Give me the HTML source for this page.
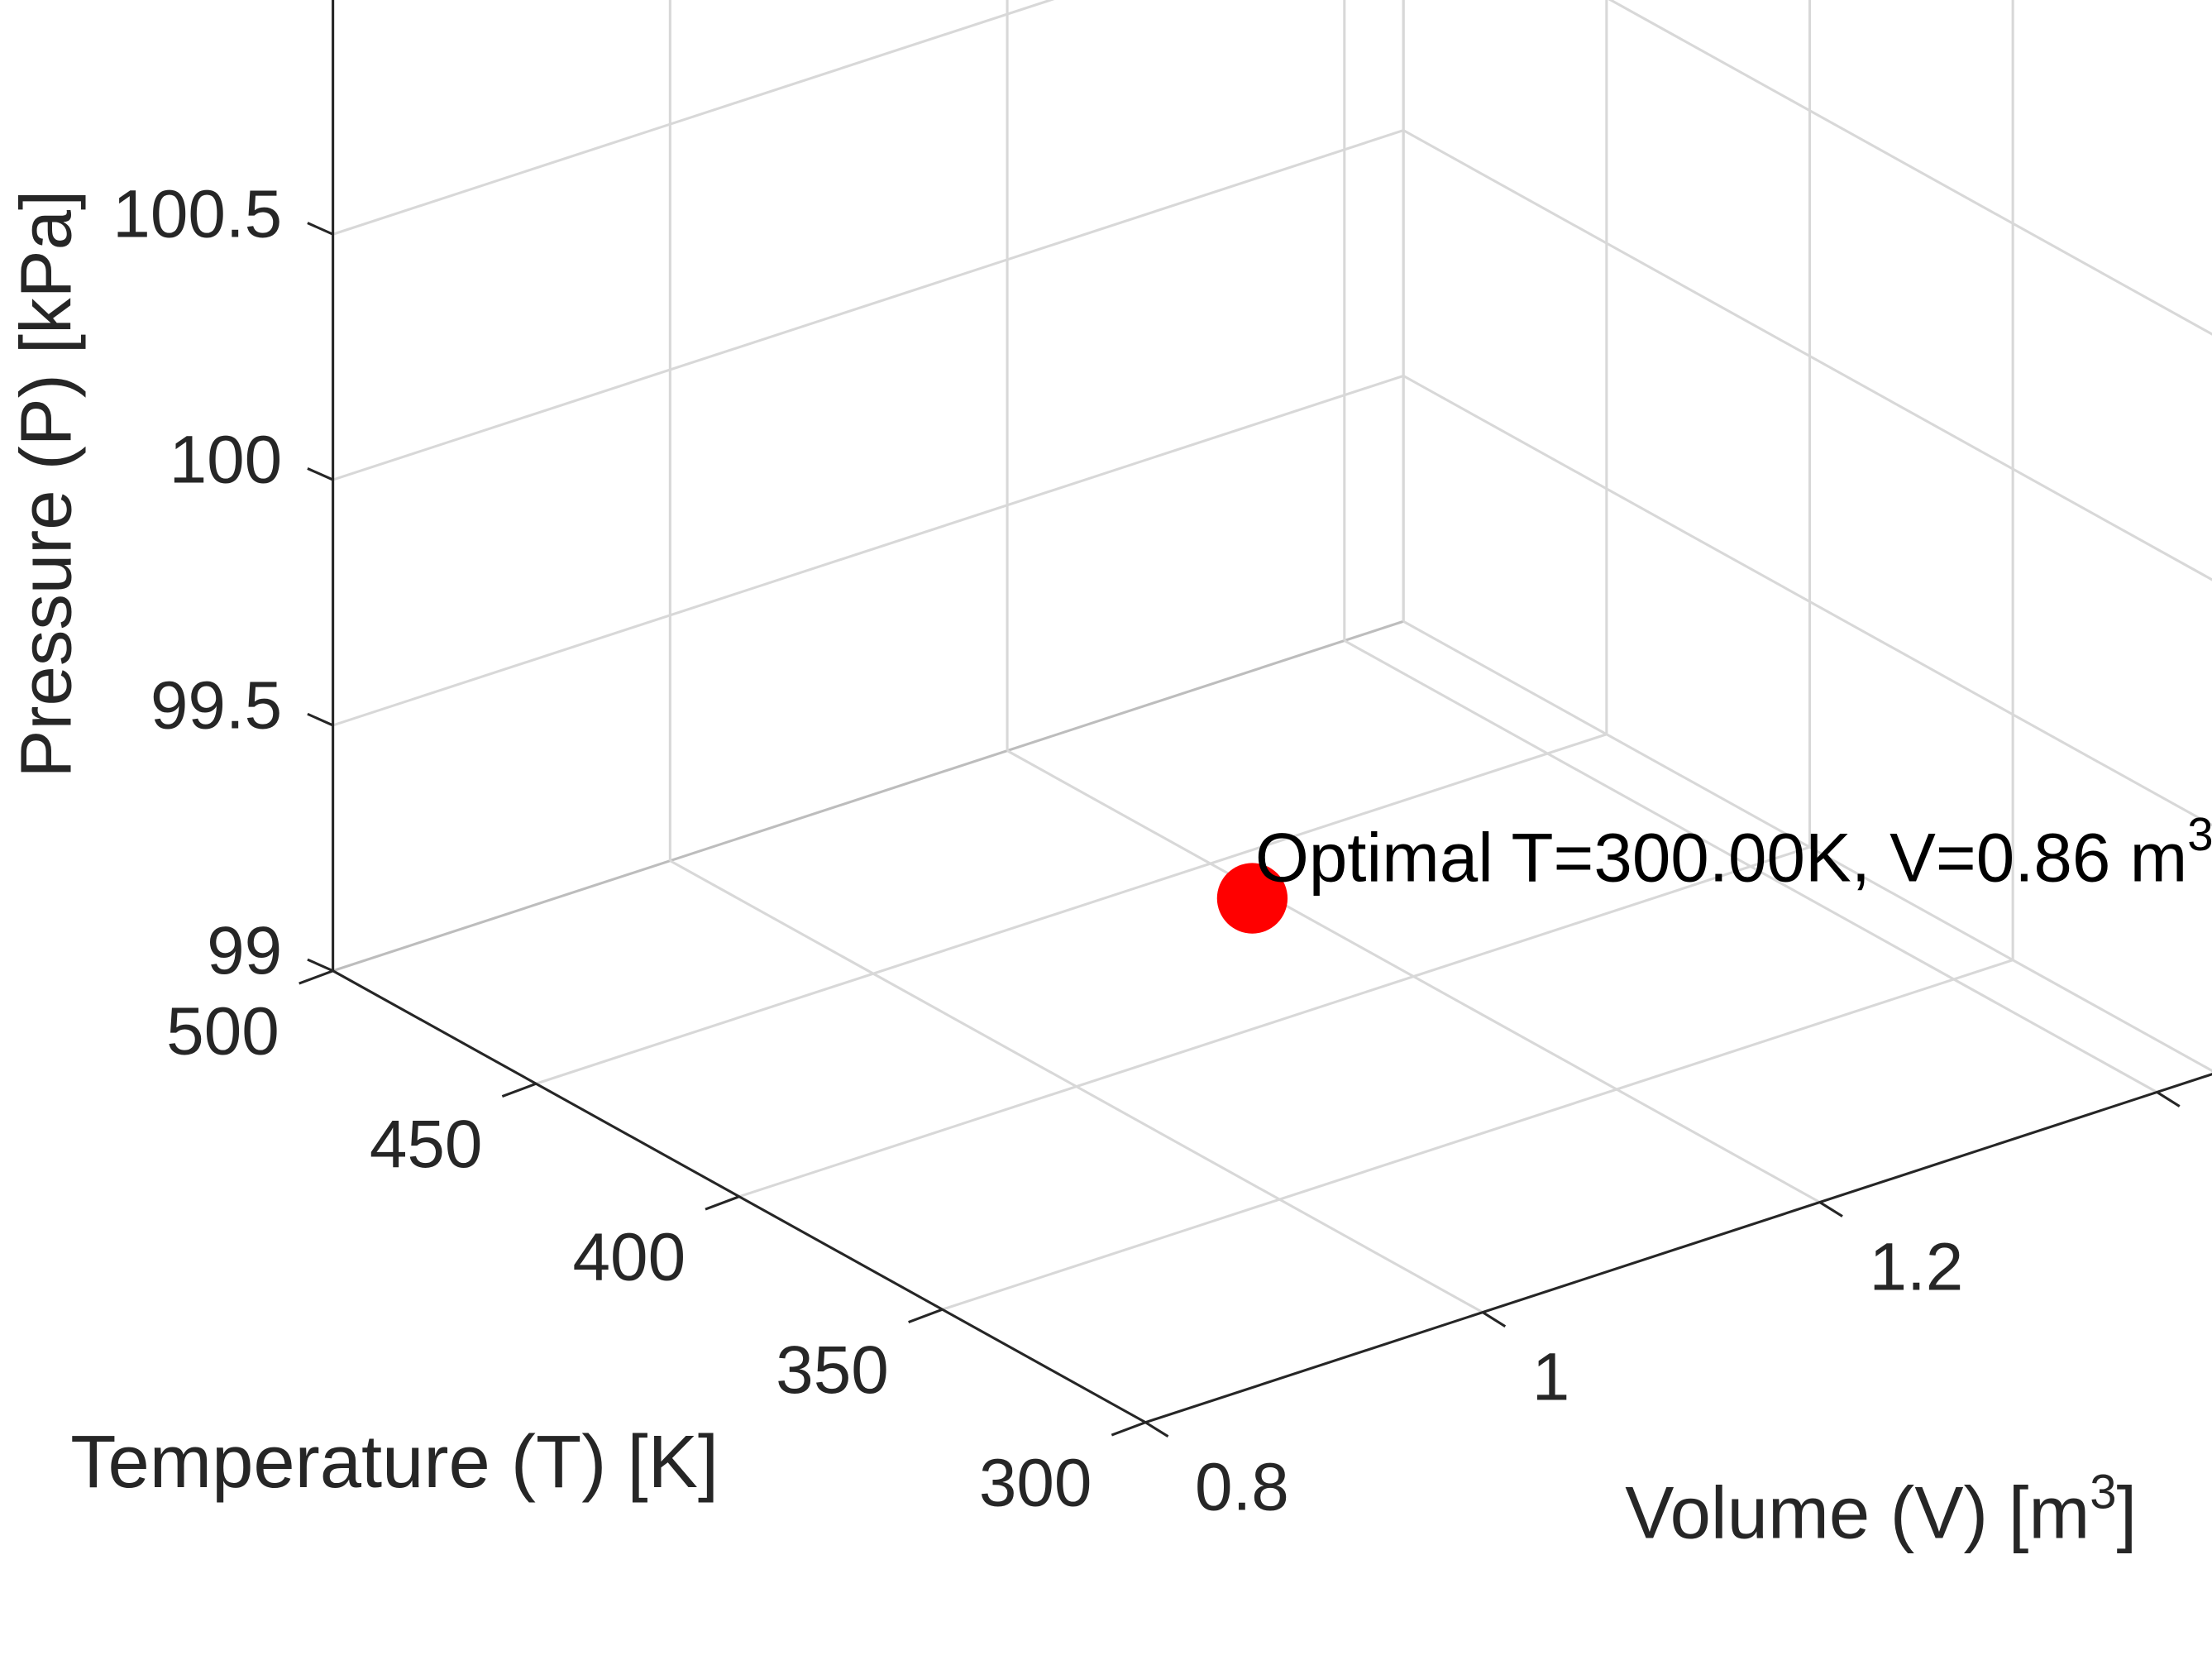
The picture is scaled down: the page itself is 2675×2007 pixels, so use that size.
<!DOCTYPE html>
<html><head><meta charset="utf-8"><style>
html,body{margin:0;padding:0;background:#fff;}
svg{display:block;font-family:"Liberation Sans",Arial,sans-serif;}
</style></head><body>
<svg id="chart" width="2675" height="2007" viewBox="0 0 1568 1176.4" xmlns="http://www.w3.org/2000/svg">
<g id="grid"></g>
<g id="axes"></g>
<g id="marks"></g>
<text transform="translate(50,343) rotate(-90)" text-anchor="middle" font-size="51" fill="#262626">Pressure (P) [kPa]</text>
<text x="50" y="1054" font-size="53" fill="#262626">Temperature (T) [K]</text>
<text x="1152" y="1090" font-size="52" fill="#262626">Volume (V) [m<tspan dy="-21" font-size="34">3</tspan><tspan dy="21">]</tspan></text>
</svg>
<script>
const tTicks = [300, 350, 400, 450, 500];
const vTicks = [0.8, 1.0, 1.2, 1.4];
const vTickLabels = ["0.8", "1", "1.2", "1.4"];
const pTicks = [99, 99.5, 100, 100.5];
const pTickLabels = ["99", "99.5", "100", "100.5"];
const pointT = [300];
const pointV = [0.86];
const pointP = [100];
const pointLabels = ["Optimal T=300.00K, V=0.86 m"];
const tRange = [300, 500];
const vRange = [0.8, 1.435];
const pRange = [99, 101.5];

const NS = "http://www.w3.org/2000/svg";
function P(T, V, p) { return [236 + (500 - T) / 50 * 144 + (V - 0.8) / 0.2 * 239, 688 + (500 - T) / 50 * 80 + (V - 0.8) / 0.2 * (-78) + (p - 99) / 0.5 * (-174)]; }
function line(g, a, b, stroke, w) {
  const l = document.createElementNS(NS, "line");
  l.setAttribute("x1", a[0]); l.setAttribute("y1", a[1]);
  l.setAttribute("x2", b[0]); l.setAttribute("y2", b[1]);
  l.setAttribute("stroke", stroke); l.setAttribute("stroke-width", w);
  g.appendChild(l); return l;
}
function text(g, x, y, s, anchor, size, fill) {
  const t = document.createElementNS(NS, "text");
  t.setAttribute("x", x); t.setAttribute("y", y);
  t.setAttribute("text-anchor", anchor); t.setAttribute("font-size", size);
  t.setAttribute("fill", fill); t.textContent = s; g.appendChild(t); return t;
}
const grid = document.getElementById("grid");
const axes = document.getElementById("axes");
const marks = document.getElementById("marks");
const gc = "#d8d8d8";
const [t0, t1] = tRange, [v0, v1] = vRange, [p0, p1] = pRange;
tTicks.forEach(T => { const l = line(grid, P(T, v0, p0), P(T, v1, p0), T === 500 ? "#bdbdbd" : gc, 1.8);

 });
vTicks.forEach(V => { const l = line(grid, P(t0, V, p0), P(t1, V, p0), gc, 1.8);

 });
vTicks.concat([v1]).forEach(V => { const l = line(grid, P(t1, V, p0), P(t1, V, p1), gc, 1.8);

 });
pTicks.slice(1).forEach(p => { const l = line(grid, P(t1, v0, p), P(t1, v1, p), gc, 1.8);

 });
tTicks.forEach(T => { const l = line(grid, P(T, v1, p0), P(T, v1, p1), gc, 1.8);

 });
pTicks.forEach(p => { const l = line(grid, P(t1, v1, p), P(t0, v1, p), gc, 1.8);

 });
const ac = "#262626";
let a;
a = line(axes, P(t1, v0, p0), P(t1, v0, p1), ac, 1.8);


a = line(axes, P(t1, v0, p0), P(t0, v0, p0), ac, 1.8);


a = line(axes, P(t0, v0, p0), P(t0, 1.62, p0), ac, 1.8);


pTicks.forEach((p, i) => {
  const q = P(t1, v0, p);
  const l = line(axes, q, [q[0] - 18, q[1] - 8], ac, 1.8);
  
  
  const t = text(axes, q[0] - 36, q[1] + 2, pTickLabels[i], "end", 48, ac);
  
  
});
tTicks.forEach(T => {
  const q = P(T, v0, p0);
  const l = line(axes, q, [q[0] - 24, q[1] + 9], ac, 1.8);
  
  
  const t = text(axes, q[0] - 38, q[1] + 59, String(T), "end", 48, ac);
  
  
});
vTicks.forEach((V, i) => {
  const q = P(t0, V, p0);
  const l = line(axes, q, [q[0] + 16, q[1] + 10], ac, 1.8);
  
  
  if (q[0] + 35 < 1560) {
    const t = text(axes, q[0] + 35, q[1] + 62, vTickLabels[i], "start", 48, ac);
    
    
  }
});
pointT.forEach((T, i) => {
  const q = P(T, pointV[i], pointP[i]);
  const c = document.createElementNS(NS, "circle");
  c.setAttribute("cx", q[0] + 4); c.setAttribute("cy", q[1]); c.setAttribute("r", 25);
  c.setAttribute("fill", "#ff0000");
  
  
  marks.appendChild(c);
  const t = text(marks, q[0] + 6, q[1] - 12, pointLabels[i], "start", 49, "#000");
  const s = document.createElementNS(NS, "tspan");
  s.setAttribute("dy", "-22"); s.setAttribute("font-size", "33"); s.textContent = "3";
  t.appendChild(s);
  
  
});
</script>
</body></html>
